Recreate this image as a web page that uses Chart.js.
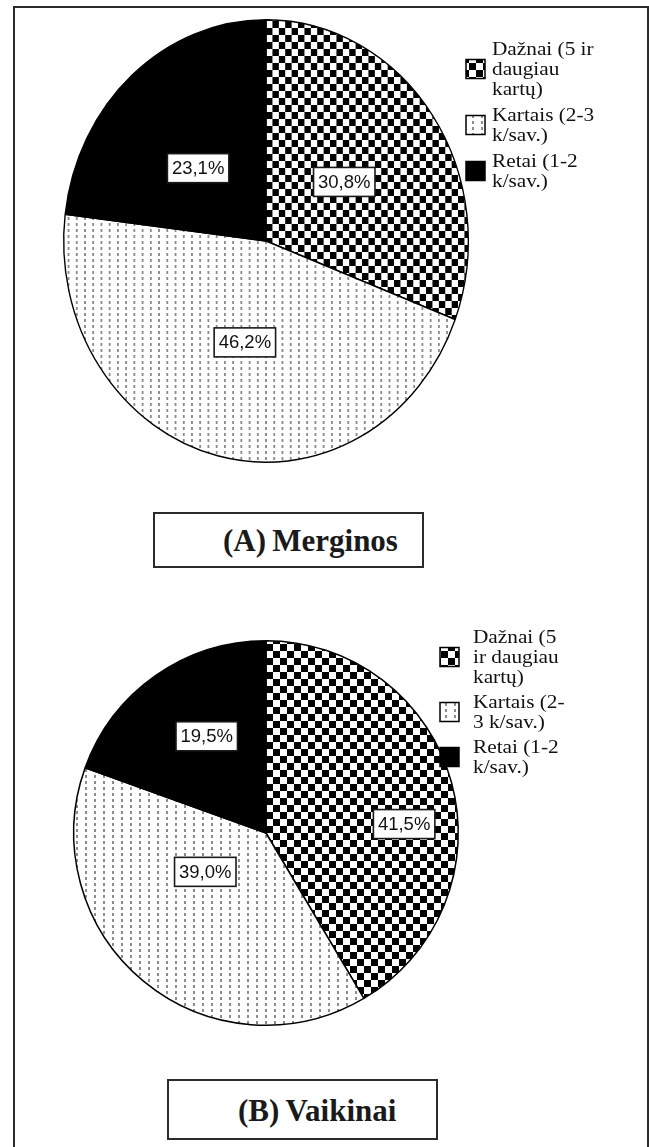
<!DOCTYPE html>
<html>
<head>
<meta charset="utf-8">
<script src="https://cdn.jsdelivr.net/npm/chart.js@4.4.1/dist/chart.umd.min.js"></script>
<style>
  html, body { margin: 0; padding: 0; background: #fff; }
  #page { position: relative; width: 649px; height: 1147px; overflow: hidden; background: #fff; }
  #frame { position: absolute; left: 13px; top: 6px; width: 636px; height: 1160px;
           border: 2px solid #2b2b2b; border-bottom: none; box-sizing: border-box; }
  canvas.pie { position: absolute; left: 0; top: 0; }
  .title { position: absolute; border: 2px solid #2b2b2b; box-sizing: border-box; background: #fff;
           font-family: "Liberation Serif", "Times New Roman", serif; font-weight: bold; font-size: 31px;
           color: #1a1a1a; line-height: 1; }
  .title span { position: absolute; top: 50%; transform: translateY(-50%); white-space: nowrap; }
</style>
</head>
<body>
<div id="page">
  <div id="frame"></div>
  <canvas id="pieA" class="pie" width="649" height="1147"></canvas>
  <canvas id="pieB" class="pie" width="649" height="1147"></canvas>
  <div class="title" id="titleA" style="left:153px; top:512px; width:271px; height:56px;"><span style="left:68px;">(A)&#8201;Merginos</span></div>
  <div class="title" id="titleB" style="left:167px; top:1079px; width:271px; height:61px;"><span style="left:69px;">(B)&#8201;Vaikinai</span></div>
</div>
<script>
// Response categories (slice order: clockwise from 12 o'clock)
const categories = ["Dažnai (5 ir daugiau kartų)", "Kartais (2-3 k/sav.)", "Retai (1-2 k/sav.)"];

// Percent shares per group
const valuesMerginos = [30.8, 46.2, 23.1];
const valuesVaikinai = [41.5, 39.0, 19.5];

// Legend text, wrapped as printed beside each pie
const legendMerginos = [["Dažnai (5 ir", "daugiau", "kartų)"], ["Kartais (2-3", "k/sav.)"], ["Retai (1-2", "k/sav.)"]];
const legendVaikinai = [["Dažnai (5", "ir daugiau", "kartų)"], ["Kartais (2-", "3 k/sav.)"], ["Retai (1-2", "k/sav.)"]];

// ---- fill patterns ----
function checkerPattern(ctx, cell) {
  const c = document.createElement('canvas');
  c.width = cell * 2; c.height = cell * 2;
  const g = c.getContext('2d');
  g.fillStyle = '#fff'; g.fillRect(0, 0, c.width, c.height);
  g.fillStyle = '#000';
  g.fillRect(0, 0, cell, cell);
  g.fillRect(cell, cell, cell, cell);
  return ctx.createPattern(c, 'repeat');
}
function dashPattern(ctx) {
  const c = document.createElement('canvas');
  c.width = 9; c.height = 6;
  const g = c.getContext('2d');
  g.fillStyle = '#fff'; g.fillRect(0, 0, 9, 6);
  g.fillStyle = '#8c8c8c';
  g.fillRect(4, 1, 2, 3);
  return ctx.createPattern(c, 'repeat');
}

const fmtPct = v => v.toFixed(1).replace('.', ',') + '%';

// Stretches the pie about its centre so it can be drawn as an ellipse
const ellipsePlugin = {
  id: 'ellipse',
  beforeDatasetsDraw(chart, args, opts) {
    const arc = chart.getDatasetMeta(0).data[0];
    const ctx = chart.ctx;
    ctx.save();
    ctx.translate(arc.x, arc.y);
    ctx.scale(opts.sx, opts.sy);
    ctx.translate(-arc.x, -arc.y);
  },
  afterDatasetsDraw(chart) {
    chart.ctx.restore();
  }
};

// Boxed percentage labels inside each slice
const boxLabelPlugin = {
  id: 'boxLabels',
  afterDatasetsDraw(chart, args, opts) {
    const ctx = chart.ctx;
    const sx = chart.options.plugins.ellipse.sx, sy = chart.options.plugins.ellipse.sy;
    const meta = chart.getDatasetMeta(0);
    const data = chart.data.datasets[0].data;
    ctx.save();
    ctx.font = '18.5px "Liberation Sans", Arial, sans-serif';
    ctx.textAlign = 'center';
    ctx.textBaseline = 'middle';
    meta.data.forEach((arc, i) => {
      const mid = (arc.startAngle + arc.endAngle) / 2 + (opts.turn[i] || 0) * Math.PI / 180;
      const r = arc.outerRadius * opts.radial[i];
      const x = arc.x + Math.cos(mid) * r * sx;
      const y = arc.y + Math.sin(mid) * r * sy;
      const txt = fmtPct(data[i]);
      const w = ctx.measureText(txt).width + 9;
      const h = 29;
      ctx.fillStyle = '#fff';
      ctx.fillRect(x - w / 2, y - h / 2, w, h);
      ctx.strokeStyle = '#1a1a1a';
      ctx.lineWidth = 1.6;
      ctx.strokeRect(x - w / 2, y - h / 2, w, h);
      ctx.fillStyle = '#111';
      ctx.fillText(txt, x, y + 1);
    });
    ctx.restore();
  }
};

// Legend: pattern swatch plus wrapped serif text
const sideLegendPlugin = {
  id: 'sideLegend',
  afterDraw(chart, args, opts) {
    const ctx = chart.ctx;
    const ds = chart.data.datasets[0];
    ctx.save();
    ctx.font = '18.5px "Liberation Serif", "Times New Roman", serif';
    ctx.textBaseline = 'alphabetic';
    let y = opts.top;
    opts.lines.forEach((group, i) => {
      ctx.fillStyle = '#111';
      group.forEach((ln, k) => {
        ctx.save();
        ctx.translate(opts.textX, y + k * opts.lineH);
        ctx.scale(1.15, 1);
        ctx.fillText(ln, 0, 0);
        ctx.restore();
      });
      const mid = y + (group.length - 1) * opts.lineH / 2 - 6;
      const s = opts.swatch;
      ctx.fillStyle = ds.backgroundColor[i];
      ctx.fillRect(opts.swatchX, mid - s / 2, s, s);
      ctx.strokeStyle = '#000';
      ctx.lineWidth = 1.5;
      ctx.strokeRect(opts.swatchX, mid - s / 2, s, s);
      y += group.length * opts.lineH + opts.gap;
    });
    ctx.restore();
  }
};

function makePie(id, values, geom) {
  const canvas = document.getElementById(id);
  const ctx = canvas.getContext('2d');
  const fills = [checkerPattern(ctx, 7), dashPattern(ctx), '#000'];
  const R = geom.r;
  return new Chart(ctx, {
    type: 'pie',
    data: {
      labels: categories,
      datasets: [{
        data: values,
        backgroundColor: fills,
        borderColor: '#000',
        borderWidth: 1.5,
        borderAlign: 'center'
      }]
    },
    options: {
      responsive: false,
      animation: false,
      events: [],
      layout: {
        padding: {
          left: geom.cx - R,
          right: 649 - geom.cx - R,
          top: geom.cy - R,
          bottom: 1147 - geom.cy - R
        }
      },
      plugins: {
        legend: { display: false },
        tooltip: { enabled: false },
        title: { display: false },
        ellipse: { sx: geom.sx, sy: geom.sy },
        boxLabels: { radial: geom.radial, turn: geom.turn },
        sideLegend: geom.legend
      }
    },
    plugins: [ellipsePlugin, boxLabelPlugin, sideLegendPlugin]
  });
}

// Merginos: slightly taller than wide
makePie('pieA', valuesMerginos, {
  cx: 266, cy: 241, r: 222, sx: 203 / 222, sy: 1,
  radial: [0.47, 0.47, 0.47], turn: [0, -1, -4],
  legend: { lines: legendMerginos, top: 55, lineH: 20, gap: 6, textX: 492, swatchX: 466, swatch: 19 }
});

// Vaikinai
makePie('pieB', valuesVaikinai, {
  cx: 266, cy: 833, r: 193, sx: 1, sy: 1,
  radial: [0.72, 0.375, 0.59], turn: [11.6, 17.8, 3.6],
  legend: { lines: legendVaikinai, top: 643, lineH: 20, gap: 5, textX: 473, swatchX: 440, swatch: 19 }
});
</script>
</body>
</html>
